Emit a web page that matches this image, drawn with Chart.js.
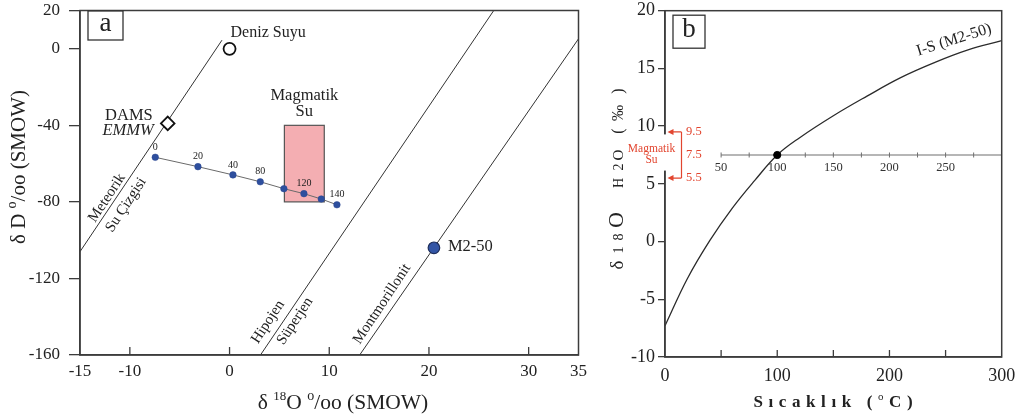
<!DOCTYPE html>
<html><head><meta charset="utf-8">
<script src="https://cdn.jsdelivr.net/npm/chart.js@4.4.1/dist/chart.umd.min.js"></script>
<style>
html,body{margin:0;padding:0;background:#fff;width:1021px;height:418px;overflow:hidden}
#ca{position:absolute;left:0;top:0}
#cb{position:absolute;left:600px;top:0}
</style></head><body>
<canvas id="ca" width="600" height="418"></canvas>
<canvas id="cb" width="421" height="418"></canvas>
<script>
// ---------- Panel a data ----------
const xTicksA = [-15, -10, 0, 10, 20, 30, 35];
const xInnerTicksA = [-10, 0, 10, 20, 30];
const yTicksA = [20, 0, -40, -80, -120, -160];
const meteoricO = [-15, -0.76];
const meteoricD = [-106, 4.5];
const hypoO = [3.1, 26.5];
const hypoD = [-160, 20];
const montO = [13.05, 35];
const montD = [-160, 5.2];
const magBoxO = [5.5, 9.5];
const magBoxD = [-80, -40];
const tempLabels = ['0', '20', '40', '80', '', '120', '', '140'];
const tempO = [-7.45, -3.17, 0.34, 3.08, 5.45, 7.46, 9.2, 10.77];
const tempD = [-56.7, -61.6, -65.9, -69.5, -73.1, -75.7, -78.5, -81.5];
const smowO = [0], smowD = [0];
const damsO = [-6.2], damsD = [-39];
const m250O = [20.5], m250D = [-104];

// ---------- Panel b data ----------
const tempB = [0, 20, 40, 60, 80, 100, 120, 150, 180, 210, 240, 270, 300];
const d18Ob = [-7.3, -3.2, 0.1, 2.9, 5.3, 7.5, 9.0, 10.9, 12.6, 14.2, 15.5, 16.6, 17.4];
const xLabelsB = [0, 100, 200, 300];
const xInnerTicksB = [50, 100, 150, 200, 250];
const yTicksB = [20, 15, 10, 5, 0, -5, -10];
const innerTicksB = [50, 75, 100, 125, 150, 175, 200, 225, 250, 275];
const innerLabelsB = [50, 100, 150, 200, 250];
const innerAxisY = 7.5;
const magRangeB = [9.5, 7.5, 5.5];
const dotT = [100], dotD = [7.5];

// ---------- helpers ----------
const SERIF = '"Liberation Serif","Times New Roman",serif';
const AX = '#3c3c3c';
const RED = '#e2452f';
function fnt(size, style) { return (style || '') + ' ' + size + 'px ' + SERIF; }
function pts(xs, ys) { return xs.map((x, i) => ({ x: x, y: ys[i] })); }
function noPad(s) { s.paddingTop = 0; s.paddingBottom = 0; s.paddingLeft = 0; s.paddingRight = 0; }
function drawRich(ctx, segs, cx, cy, spacing, rot, color) {
  ctx.save(); ctx.translate(cx, cy); ctx.rotate(rot || 0);
  ctx.fillStyle = color || '#222'; ctx.textBaseline = 'alphabetic'; ctx.textAlign = 'left';
  const items = []; let total = 0;
  segs.forEach(sg => { for (const ch of sg.t) { ctx.font = fnt(sg.size, sg.style); const w = ctx.measureText(ch).width; items.push({ ch, w, sg }); total += w; } });
  total += spacing * (items.length - 1);
  let x = -total / 2;
  items.forEach(it => { ctx.font = fnt(it.sg.size, it.sg.style); ctx.fillText(it.ch, x, it.sg.dy || 0); x += it.w + spacing; });
  ctx.restore();
}
function text(ctx, s, x, y, size, opts) {
  opts = opts || {};
  ctx.save(); ctx.translate(x, y); ctx.rotate(opts.rot || 0);
  ctx.font = fnt(size, opts.style); ctx.fillStyle = opts.color || '#222';
  ctx.textAlign = opts.align || 'center'; ctx.textBaseline = opts.base || 'middle';
  ctx.fillText(s, 0, 0); ctx.restore();
}

// ---------- Panel a ----------
const plugA = {
  id: 'plugA',
  beforeDatasetsDraw(chart) {
    const { ctx, scales: { x, y } } = chart;
    const x0 = x.getPixelForValue(magBoxO[0]), x1 = x.getPixelForValue(magBoxO[1]);
    const y0 = y.getPixelForValue(magBoxD[1]), y1 = y.getPixelForValue(magBoxD[0]);
    ctx.save();
    ctx.fillStyle = '#f4aeb2'; ctx.fillRect(x0, y0, x1 - x0, y1 - y0);
    ctx.strokeStyle = '#555'; ctx.lineWidth = 1.2; ctx.strokeRect(x0, y0, x1 - x0, y1 - y0);
    ctx.restore();
  },
  afterDatasetsDraw(chart) {
    const { ctx, chartArea: ca, scales: { x, y } } = chart;
    ctx.save();
    ctx.strokeStyle = AX; ctx.lineWidth = 1.5;
    ctx.strokeRect(ca.left, ca.top, ca.right - ca.left, ca.bottom - ca.top);
    ctx.lineWidth = 1.3;
    xInnerTicksA.forEach(v => { const px = x.getPixelForValue(v); ctx.beginPath(); ctx.moveTo(px, ca.bottom); ctx.lineTo(px, ca.bottom - 8); ctx.stroke(); });
    ctx.lineWidth = 1.3; ctx.strokeStyle = '#333';
    ctx.fillStyle = '#fff'; ctx.fillRect(ca.left + 8, ca.top + 0.5, 35, 29);
    ctx.strokeRect(ca.left + 8, ca.top + 0.5, 35, 29);
    ctx.restore();
    text(ctx, 'a', ca.left + 25.5, ca.top + 13, 27);
    tempLabels.forEach((l, i) => { if (l) text(ctx, l, x.getPixelForValue(tempO[i]), y.getPixelForValue(tempD[i]) - 10, 10); });
    text(ctx, 'Deniz Suyu', x.getPixelForValue(smowO[0]) + 1, y.getPixelForValue(smowD[0]) - 16, 16, { align: 'left' });
    const dx = x.getPixelForValue(damsO[0]), dy = y.getPixelForValue(damsD[0]);
    text(ctx, 'DAMS', dx - 15, dy - 8, 16.5, { align: 'right' });
    text(ctx, 'EMMW', dx - 14, dy + 7, 16.5, { align: 'right', style: 'italic' });
    const bx = (x.getPixelForValue(magBoxO[0]) + x.getPixelForValue(magBoxO[1])) / 2, by = y.getPixelForValue(magBoxD[1]);
    text(ctx, 'Magmatik', bx, by - 30, 16.5);
    text(ctx, 'Su', bx, by - 14, 16.5);
    text(ctx, 'M2-50', x.getPixelForValue(m250O[0]) + 14, y.getPixelForValue(m250D[0]) - 1, 16.5, { align: 'left' });
    const ang = -56.5 * Math.PI / 180;
    text(ctx, 'Meteorik', 107, 198, 15, { rot: ang });
    text(ctx, 'Su Çizgisi', 126, 205, 15, { rot: ang });
    text(ctx, 'Hipojen', 268, 322, 15, { rot: ang });
    text(ctx, 'Süperjen', 295, 321, 15, { rot: ang });
    text(ctx, 'Montmorillonit', 382, 304, 15, { rot: ang });
  },
  afterDraw(chart) {
    const { ctx } = chart;
    drawRich(ctx, [{ t: 'δ ', size: 21.5 }, { t: '18', size: 13, dy: -8.5 }, { t: 'O ', size: 21.5 }, { t: 'o', size: 14, dy: -8.5 }, { t: '/oo (SMOW)', size: 21.5 }], 343, 408.5, 0, 0);
    drawRich(ctx, [{ t: 'δ D ', size: 21 }, { t: 'o', size: 14, dy: -8.5 }, { t: '/oo (SMOW)', size: 21 }], 24.5, 167, 0, -Math.PI / 2);
  }
};

new Chart(document.getElementById('ca'), {
  type: 'scatter',
  data: {
    datasets: [
      { data: pts(m250O, m250D), pointRadius: 5.8, pointBackgroundColor: '#3355a5', pointBorderColor: '#1f2f5c', pointBorderWidth: 1.2, showLine: false },
      { data: pts(smowO, smowD), pointRadius: 6, pointBackgroundColor: '#fff', pointBorderColor: '#111', pointBorderWidth: 1.8, showLine: false },
      { data: pts(damsO, damsD), pointStyle: 'rectRot', pointRadius: 6.8, pointBackgroundColor: '#fff', pointBorderColor: '#111', pointBorderWidth: 1.8, showLine: false },
      { data: pts(tempO, tempD), showLine: true, borderColor: '#6a6a6a', borderWidth: 1, pointRadius: 3.3, pointBackgroundColor: '#2e4f9e', pointBorderColor: '#2a4690', pointBorderWidth: 0.5 },
      { data: pts(meteoricO, meteoricD), showLine: true, borderColor: '#333', borderWidth: 1, pointRadius: 0 },
      { data: pts(hypoO, hypoD), showLine: true, borderColor: '#333', borderWidth: 1, pointRadius: 0 },
      { data: pts(montO, montD), showLine: true, borderColor: '#333', borderWidth: 1, pointRadius: 0 }
    ]
  },
  options: {
    responsive: false, animation: false, devicePixelRatio: 1,
    layout: { padding: { left: 0, right: 21.5, top: 10.5, bottom: 0 } },
    plugins: { legend: { display: false }, tooltip: { enabled: false } },
    scales: {
      x: {
        type: 'linear', min: -15, max: 35,
        afterBuildTicks: s => { s.ticks = xTicksA.map(v => ({ value: v })); },
        afterFit: s => { s.height = 63; noPad(s); },
        grid: { display: false, drawTicks: false },
        border: { display: true, color: AX, width: 1.5 },
        ticks: { font: { family: SERIF, size: 17 }, color: '#222', padding: 6, maxRotation: 0, autoSkip: false }
      },
      y: {
        type: 'linear', min: -160, max: 20,
        afterBuildTicks: s => { s.ticks = yTicksA.map(v => ({ value: v })); },
        afterFit: s => { s.width = 80; noPad(s); },
        grid: { display: true, drawOnChartArea: false, drawTicks: true, tickLength: 11, color: AX, lineWidth: 1.3 },
        border: { display: true, color: AX, width: 1.5 },
        ticks: { font: { family: SERIF, size: 17 }, color: '#222', padding: 9, autoSkip: false }
      }
    }
  },
  plugins: [plugA]
});

// ---------- Panel b ----------
const plugB = {
  id: 'plugB',
  beforeDatasetsDraw(chart) {
    const { ctx, chartArea: ca, scales: { x, y } } = chart;
    const iy = y.getPixelForValue(innerAxisY);
    ctx.save();
    ctx.strokeStyle = '#6f6f6f'; ctx.lineWidth = 1.2;
    ctx.beginPath(); ctx.moveTo(x.getPixelForValue(innerTicksB[0]), iy); ctx.lineTo(ca.right, iy); ctx.stroke();
    ctx.lineWidth = 1;
    innerTicksB.forEach(v => { const px = x.getPixelForValue(v); ctx.beginPath(); ctx.moveTo(px, iy - 2.5); ctx.lineTo(px, iy + 2.5); ctx.stroke(); });
    ctx.restore();
    innerLabelsB.forEach(v => text(ctx, String(v), x.getPixelForValue(v), iy + 13, 12.5, { color: '#333' }));
  },
  afterDatasetsDraw(chart) {
    const { ctx, chartArea: ca, scales: { x, y } } = chart;
    ctx.save();
    ctx.strokeStyle = AX; ctx.lineWidth = 1.5;
    ctx.strokeRect(ca.left, ca.top, ca.right - ca.left, ca.bottom - ca.top);
    ctx.lineWidth = 1.3;
    xInnerTicksB.forEach(v => { const px = x.getPixelForValue(v); ctx.beginPath(); ctx.moveTo(px, ca.bottom); ctx.lineTo(px, ca.bottom - 7); ctx.stroke(); });
    const yTop = y.getPixelForValue(magRangeB[0]), yMid = y.getPixelForValue(magRangeB[1]), yBot = y.getPixelForValue(magRangeB[2]);
    ctx.fillStyle = '#fff'; ctx.fillRect(ca.left - 3, yTop + 2.5, 6, (yBot - yTop) - 10);
    ctx.strokeStyle = '#333'; ctx.lineWidth = 1.3;
    ctx.fillStyle = '#fff'; ctx.fillRect(ca.left + 8, ca.top + 4.5, 32, 33);
    ctx.strokeRect(ca.left + 8, ca.top + 4.5, 32, 33);
    const bxp = ca.left + 16.5, tip = ca.left + 2.5;
    ctx.strokeStyle = RED; ctx.fillStyle = RED; ctx.lineWidth = 1.2;
    ctx.beginPath(); ctx.moveTo(bxp, yTop); ctx.lineTo(bxp, yBot); ctx.moveTo(bxp, yTop); ctx.lineTo(tip + 4, yTop); ctx.moveTo(bxp, yBot); ctx.lineTo(tip + 4, yBot); ctx.stroke();
    [yTop, yBot].forEach(yy => { ctx.beginPath(); ctx.moveTo(tip, yy); ctx.lineTo(tip + 6, yy - 3); ctx.lineTo(tip + 6, yy + 3); ctx.closePath(); ctx.fill(); });
    ctx.restore();
    text(ctx, 'b', ca.left + 24, ca.top + 19.5, 27);
    magRangeB.forEach(v => text(ctx, String(v), ca.left + 21, y.getPixelForValue(v), 12.5, { align: 'left', color: RED }));
    text(ctx, 'Magmatik', ca.left - 13.5, yMid - 6.5, 11.5, { color: RED });
    text(ctx, 'Su', ca.left - 13.5, yMid + 5, 11.5, { color: RED });
    text(ctx, 'I-S (M2-50)', 354, 40, 16, { rot: -17.5 * Math.PI / 180 });
  },
  afterDraw(chart) {
    const { ctx } = chart;
    const chars = ['δ', '1', '8', 'O', 'H', '2', 'O', '(', '‰', ')'];
    const sizes = [19, 14, 14, 22, 14, 14, 15, 16, 16, 16];
    const centers = [265, 250, 237, 220, 183, 167, 155, 131, 113, 91];
    chars.forEach((c, i) => {
      ctx.save(); ctx.translate(23, centers[i]); ctx.rotate(-Math.PI / 2);
      ctx.font = fnt(sizes[i]); ctx.fillStyle = '#222'; ctx.textAlign = 'center'; ctx.textBaseline = 'alphabetic';
      ctx.fillText(c, 0, 0); ctx.restore();
    });
    drawRich(ctx, [{ t: 'Sıcaklık (', size: 17, style: 'bold' }, { t: 'o', size: 11, dy: -7 }, { t: 'C)', size: 17, style: 'bold' }], 233, 406.5, 5.6, 0);
  }
};

new Chart(document.getElementById('cb'), {
  type: 'scatter',
  data: {
    datasets: [
      { data: pts(dotT, dotD), pointRadius: 3.6, pointBackgroundColor: '#000', pointBorderColor: '#000', showLine: false },
      { data: pts(tempB, d18Ob), showLine: true, borderColor: '#2b2b2b', borderWidth: 1.3, pointRadius: 0, tension: 0.4 }
    ]
  },
  options: {
    responsive: false, animation: false, devicePixelRatio: 1,
    layout: { padding: { left: 0, right: 19.3, top: 10.7, bottom: 0 } },
    plugins: { legend: { display: false }, tooltip: { enabled: false } },
    scales: {
      x: {
        type: 'linear', min: 0, max: 300,
        afterBuildTicks: s => { s.ticks = xLabelsB.map(v => ({ value: v })); },
        afterFit: s => { s.height = 61; noPad(s); },
        grid: { display: false, drawTicks: false },
        border: { display: true, color: AX, width: 1.5 },
        ticks: { font: { family: SERIF, size: 18 }, color: '#222', padding: 8, maxRotation: 0, autoSkip: false }
      },
      y: {
        type: 'linear', min: -10, max: 20,
        afterBuildTicks: s => { s.ticks = yTicksB.map(v => ({ value: v })); },
        afterFit: s => { s.width = 65; noPad(s); },
        grid: { display: true, drawOnChartArea: false, drawTicks: true, tickLength: 7, color: AX, lineWidth: 1.3 },
        border: { display: true, color: AX, width: 1.5 },
        ticks: { font: { family: SERIF, size: 18 }, color: '#222', padding: 3, autoSkip: false }
      }
    }
  },
  plugins: [plugB]
});
</script>
</body></html>
